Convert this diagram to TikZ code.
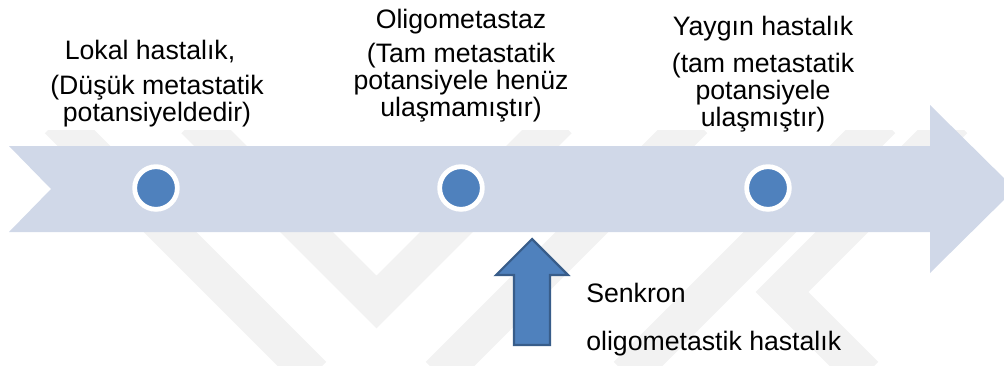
\documentclass[tikz,border=0pt]{standalone}
\usepackage{fontspec}
\setmainfont{Liberation Sans}
\definecolor{band}{HTML}{D0D8E8}
\definecolor{dotblue}{HTML}{4F81BD}
\definecolor{dotedge}{HTML}{385D8A}
\definecolor{wmark}{HTML}{F2F2F2}
\begin{document}
\begin{tikzpicture}[x=0.75pt,y=-0.75pt,
  wm/.style={draw=wmark,line width=28pt,line join=miter},
  dot/.style={circle,fill=dotblue,draw=white,line width=3.6pt,minimum size=32pt,inner sep=0pt},
  ttl/.style={font=\fontsize{20}{20}\selectfont,anchor=base,inner sep=0pt},
  para/.style={font=\fontsize{20}{20}\selectfont,align=center,anchor=base,inner sep=0pt},
  lbl/.style={font=\fontsize{20}{20}\selectfont,anchor=base west,inner sep=0pt}]
\useasboundingbox (0,0) rectangle (1004,365);
% faint watermark
\begin{scope}
\clip (0,130) rectangle (1004,365);
\draw[wm] (58,120) -- (313,375);
\draw[wm] (194.5,120) -- (376.5,302) -- (558.5,120);
\draw[wm] (694,120) -- (439,375);
\draw[wm] (882,120) -- (627,375);
\draw[wm] (954,120) -- (782,292) -- (865,375);
\end{scope}
% timeline band
\fill[band] (9,146) -- (930,146) -- (930,105) -- (1015,189) -- (930,273) -- (930,232) -- (9,232) -- (51,189) -- cycle;
% dots
\node[dot] (d1) at (156,188) {};
\node[dot] (d2) at (461,188) {};
\node[dot] (d3) at (768,188) {};
% texts
\node[ttl] (t1) at (150,59) {Lokal hastalık,};
\node[para] (p1) at (157,121) {(Düşük metastatik\\potansiyeldedir)};
\node[ttl] (t2) at (461,28) {Oligometastaz};
\node[para] (p2) at (461,116) {(Tam metastatik\\potansiyele henüz\\ulaşmamıştır)};
\node[ttl] (t3) at (763,35) {Yaygın hastalık};
\node[para] (p3) at (763,126) {(tam metastatik\\potansiyele\\ulaşmıştır)};
% up arrow
\draw[fill=dotblue,draw=dotedge,line width=1.6pt,line join=miter]
  (532,239) -- (568,275) -- (550,275) -- (550,345) -- (514,345) -- (514,275) -- (496,275) -- cycle;
\node[lbl] (s1) at (586,302) {Senkron};
\node[lbl] (s2) at (586,350) {oligometastik hastalık};
\end{tikzpicture}
\end{document}
